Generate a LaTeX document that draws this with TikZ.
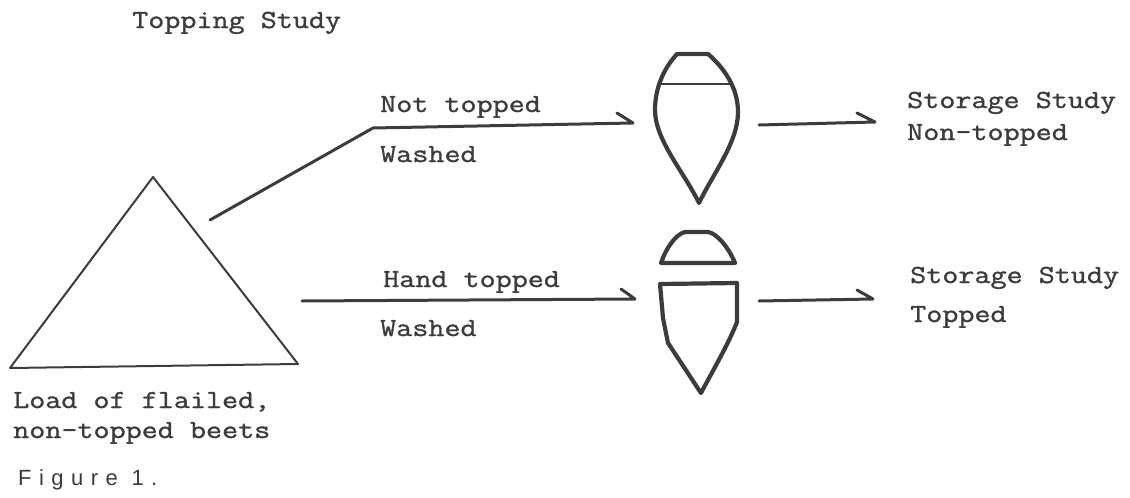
\documentclass[tikz,border=0pt]{standalone}
\usepackage{fontspec}
\setmonofont[FakeStretch=1.2,FakeBold=1.2]{Latin Modern Mono}
\newfontfamily\capfont[LetterSpace=34]{Liberation Sans}
\definecolor{ink}{HTML}{3C3C3C}
\begin{document}
\begin{tikzpicture}[x=1pt,y=-1pt,
  txt/.style={anchor=base west,inner sep=0pt,text=ink,font=\ttfamily\fontsize{26}{30}\selectfont},
  pile/.style={draw=ink,line width=2pt,line join=round},
  beet/.style={draw=ink,line width=4.2pt,line join=round,line cap=round},
  link/.style={draw=ink,line width=3pt,line cap=round,line join=round}]
\useasboundingbox (0,0) rectangle (1130,498);

% heading
\node[txt] (title) at (132,28) {Topping Study};

% pile of beets
\coordinate (apex) at (153,177);
\coordinate (baseL) at (10,368);
\coordinate (baseR) at (298,364);
\draw[pile] (apex) -- (baseL) -- (baseR) -- cycle;
\node[txt] (load1) at (13,408) {Load of flailed,};
\node[txt] (load2) at (13,438) {non-topped beets};
\node[anchor=base west,inner sep=0pt,text=ink,font=\capfont\fontsize{22}{24}\selectfont] (fig) at (18,485) {Figure 1.};

% upper branch: not topped (half-barbed arrow heads drawn by hand)
\coordinate (pileOut) at (210,220);
\coordinate (bend) at (373,128);
\coordinate (beetAin) at (633,123);
\draw[link] (pileOut) -- (bend) -- (beetAin) -- ++(-16,-10);
\node[txt] (nt) at (380,112) {Not topped};
\node[txt] (wa) at (380,162) {Washed};

% whole beet
\draw[beet] (699,203) .. controls (684,172) and (655,140) .. (655,110)
  .. controls (655,85) and (666,66) .. (677,54) -- (708,54)
  .. controls (722,66) and (738,86) .. (738,112)
  .. controls (738,142) and (714,172) .. (699,203) -- cycle;
\draw[draw=ink,line width=2.6pt] (661,84) -- (731,84);
\coordinate (beetAout) at (759,125);
\coordinate (storeA) at (875,122);
\draw[link] (beetAout) -- (storeA) -- ++(-18,-9);
\node[txt] (sa1) at (907,108) {Storage Study};
\node[txt] (sa2) at (907,140) {Non-topped};

% lower branch: hand topped
\coordinate (pileOut2) at (302,301);
\coordinate (beetBin) at (635,299);
\draw[link] (pileOut2) -- (beetBin) -- ++(-14,-10);
\node[txt] (ht) at (383,287) {Hand topped};
\node[txt] (wb) at (380,336) {Washed};

% removed crown
\draw[beet] (661,263) -- (735,263)
  .. controls (728,246) and (716,233) .. (708,232) -- (685,232)
  .. controls (676,234) and (666,248) .. (661,263) -- cycle;
% topped beet
\draw[beet] (660,284) -- (737,283) -- (737,322)
  .. controls (728,345) and (712,372) .. (701,393)
  -- (668,343) -- (663,318) -- cycle;
\coordinate (beetBout) at (759,301);
\coordinate (storeB) at (873,299);
\draw[link] (beetBout) -- (storeB) -- ++(-16,-9);
\node[txt] (sb1) at (910,283) {Storage Study};
\node[txt] (sb2) at (910,322) {Topped};
\end{tikzpicture}
\end{document}
